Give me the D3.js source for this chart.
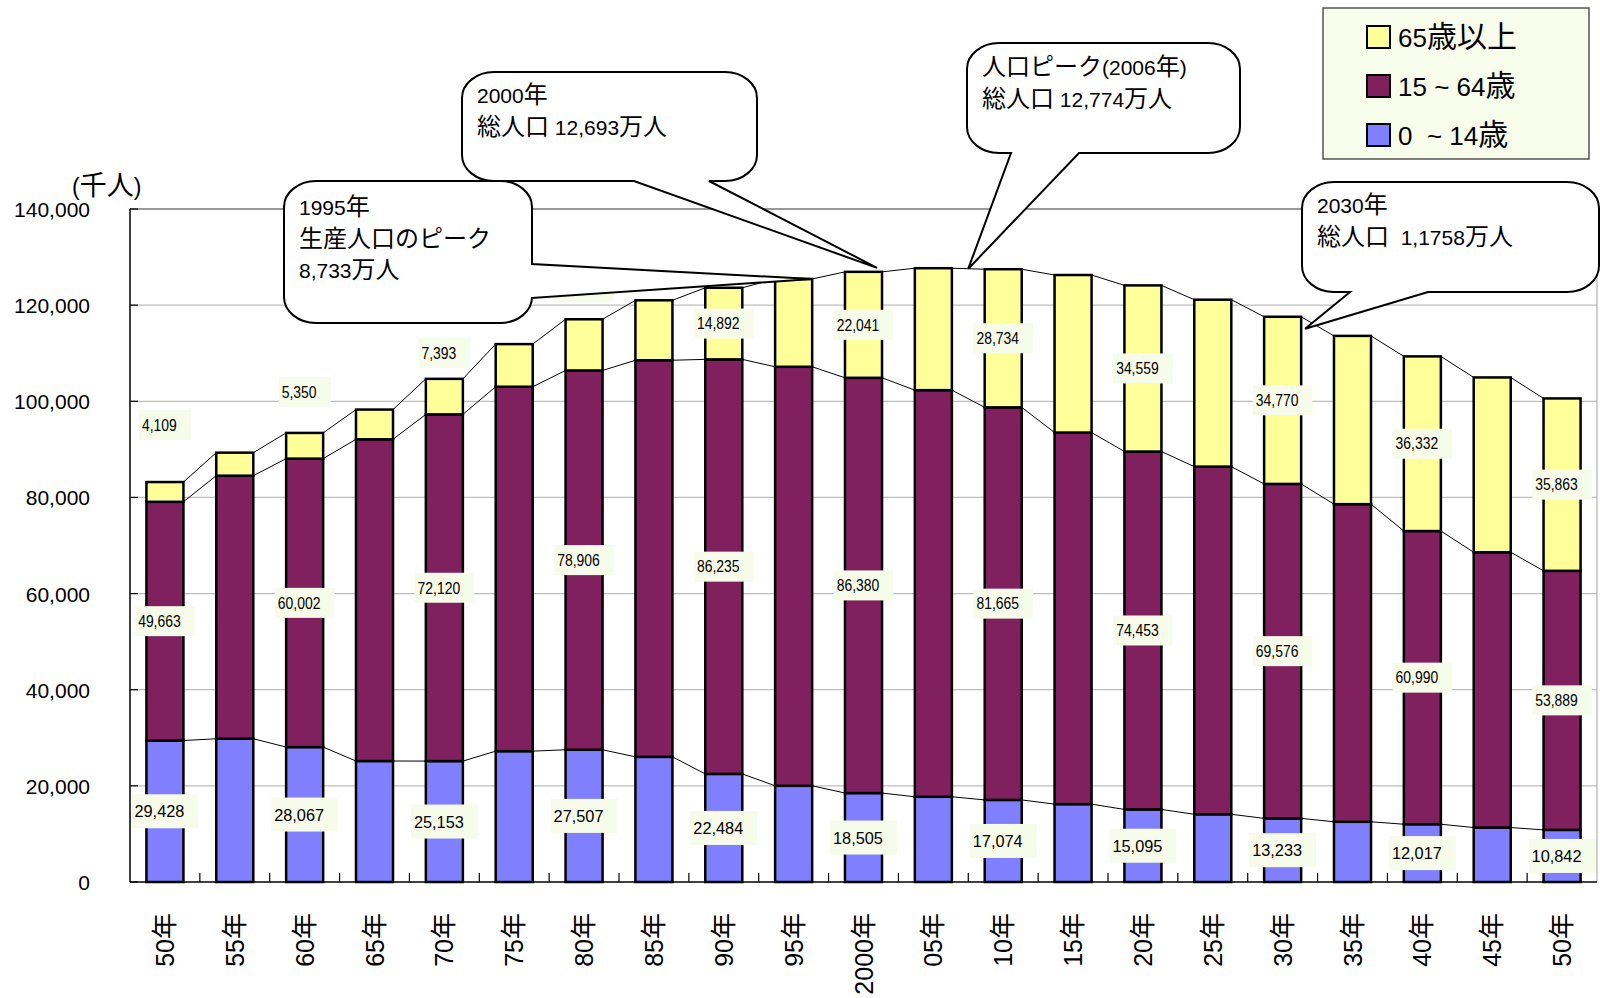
<!DOCTYPE html>
<html lang="ja">
<head>
<meta charset="utf-8">
<title>年齢3区分別人口の推移</title>
<script src="https://cdn.jsdelivr.net/npm/d3@7/dist/d3.min.js"></script>
<style>
  html, body { margin: 0; padding: 0; background: #ffffff; }
  svg { display: block; }
  text { font-family: "Liberation Sans", Arial, "Noto Sans CJK JP", sans-serif; fill: #000; }
</style>
</head>
<body>
<script>
// ---- data (千人) ----
const years = [1950, 1955, 1960, 1965, 1970, 1975, 1980, 1985, 1990, 1995, 2000,
               2005, 2010, 2015, 2020, 2025, 2030, 2035, 2040, 2045, 2050];
const yearLabels = ["50年", "55年", "60年", "65年", "70年", "75年", "80年", "85年", "90年", "95年", "2000年",
                    "05年", "10年", "15年", "20年", "25年", "30年", "35年", "40年", "45年", "50年"];
const age0to14 = [29428, 29798, 28067, 25166, 25153, 27221, 27507, 26033, 22484, 20014, 18505,
                  17727, 17074, 16197, 15095, 14085, 13233, 12524, 12017, 11327, 10842];
const age15to64 = [49663, 54729, 60002, 66928, 72120, 75807, 78906, 82506, 86235, 87165, 86380,
                   84590, 81665, 77297, 74453, 72325, 69576, 66076, 60990, 57269, 53889];
const age65plus = [4109, 4786, 5350, 6181, 7393, 8865, 10647, 12468, 14892, 18261, 22041,
                   25367, 28734, 32772, 34559, 34726, 34770, 35002, 36332, 36364, 35863];
const labelledYears = [1950, 1960, 1970, 1980, 1990, 2000, 2010, 2020, 2030, 2040, 2050];
const yTicks = [0, 20000, 40000, 60000, 80000, 100000, 120000, 140000];
const legendLabels = ["65歳以上", "15 ~ 64歳", "0  ~ 14歳"];
const unitLabel = "(千人)";

// ---- layout ----
const W = 1600, H = 998;
const plot = { left: 130, right: 1597, top: 209, bottom: 882 };
const colors = { a: "#8080FF", b: "#80205F", c: "#FFFF99" };
const labelBg = "#F7FBEA";
// small 65+ segments carry their label above the bar top (distance to label centre)
const aboveBarLift = { 1950: 57, 1960: 41, 1970: 26, 1980: 32 };

const svg = d3.select("body").append("svg").attr("width", W).attr("height", H);
svg.append("rect").attr("width", W).attr("height", H).attr("fill", "#fff");

const x = d3.scaleBand().domain(years).range([plot.left, plot.right])
  .paddingInner(0.47).paddingOuter(0.235);
const y = d3.scaleLinear().domain([0, 140000]).range([plot.bottom, plot.top]);
const bw = x.bandwidth();

const CJK = /[\u3000-\u30ff\u3400-\u9fff\uff00-\uffef]+|[^\u3000-\u30ff\u3400-\u9fff\uff00-\uffef]+/g;
function mixed(sel, str, latinSize, cjkSize) {
  str.match(CJK).forEach(part => {
    const isCjk = /[\u3000-\u30ff\u3400-\u9fff\uff00-\uffef]/.test(part);
    sel.append("tspan").attr("font-size", isCjk ? cjkSize : latinSize).text(part);
  });
  return sel;
}

// ---- gridlines & frame ----
const grid = svg.append("g");
yTicks.filter(v => v > 0 && v < 140000).forEach(v => {
  grid.append("line").attr("x1", plot.left).attr("x2", plot.right)
    .attr("y1", y(v)).attr("y2", y(v)).attr("stroke", "#bdbdbd").attr("stroke-width", 1.2);
});
grid.append("line").attr("x1", plot.left).attr("x2", plot.right)
  .attr("y1", y(140000)).attr("y2", y(140000)).attr("stroke", "#333").attr("stroke-width", 1.2);
grid.append("line").attr("x1", plot.right).attr("x2", plot.right)
  .attr("y1", plot.top).attr("y2", plot.bottom).attr("stroke", "#b0b0b0").attr("stroke-width", 1.2);

// ---- stacked bars ----
const rows = years.map((yr, i) => ({ year: yr, a: age0to14[i], b: age15to64[i], c: age65plus[i] }));
const stacked = d3.stack().keys(["a", "b", "c"])(rows);

// series lines between neighbouring bars
const sl = svg.append("g").attr("stroke", "#000").attr("stroke-width", 1);
stacked.forEach(s => {
  for (let i = 0; i < s.length - 1; i++) {
    sl.append("line")
      .attr("x1", x(years[i]) + bw).attr("y1", y(s[i][1]))
      .attr("x2", x(years[i + 1])).attr("y2", y(s[i + 1][1]));
  }
});

const bars = svg.append("g");
stacked.forEach(s => {
  bars.append("g").selectAll("rect").data(s).join("rect")
    .attr("x", d => x(d.data.year))
    .attr("width", bw)
    .attr("y", d => y(d[1]))
    .attr("height", d => y(d[0]) - y(d[1]))
    .attr("fill", colors[s.key])
    .attr("stroke", "#000").attr("stroke-width", 2.5);
});

// ---- axes ----
const axes = svg.append("g");
axes.append("line").attr("x1", plot.left).attr("x2", plot.left)
  .attr("y1", plot.top).attr("y2", plot.bottom).attr("stroke", "#000").attr("stroke-width", 1.5);
axes.append("line").attr("x1", plot.left).attr("x2", plot.right)
  .attr("y1", plot.bottom).attr("y2", plot.bottom).attr("stroke", "#000").attr("stroke-width", 1.5);
yTicks.forEach(v => {
  axes.append("line").attr("x1", plot.left).attr("x2", plot.left + 8)
    .attr("y1", y(v)).attr("y2", y(v)).attr("stroke", "#000").attr("stroke-width", 1.2);
  axes.append("text").attr("x", 90).attr("y", y(v)).attr("dy", "0.38em")
    .attr("text-anchor", "end").attr("font-size", 21)
    .text(d3.format(",")(v));
});
const step = x.step();
for (let i = 1; i < years.length; i++) {
  const tx = plot.left + i * step;
  axes.append("line").attr("x1", tx).attr("x2", tx)
    .attr("y1", plot.bottom).attr("y2", plot.bottom - 9).attr("stroke", "#000").attr("stroke-width", 1.2);
}
years.forEach((yr, i) => {
  const t = axes.append("text")
    .attr("transform", `translate(${x(yr) + bw / 2},913) rotate(-90)`)
    .attr("text-anchor", "end").attr("y", 9);
  mixed(t, yearLabels[i], 25, 26);
});
mixed(svg.append("text").attr("x", 72).attr("y", 195), unitLabel, 23, 27);

// ---- data labels ----
const labels = svg.append("g");
function dataLabel(cx, cy, value, big) {
  const size = big ? 17 : 16, sx = big ? 0.96 : 0.87, h = big ? 34 : 30;
  const g = labels.append("g").attr("transform", `translate(${cx},${cy})`);
  const r = g.append("rect").attr("fill", labelBg);
  const t = g.append("text").attr("font-size", size).attr("dy", "0.36em").text(d3.format(",")(value));
  const tw = t.node().getComputedTextLength() * sx;
  const w = tw + 17;
  r.attr("x", -w / 2).attr("y", -h / 2).attr("width", w).attr("height", h);
  t.attr("transform", `translate(${-w / 2 + 3},0) scale(${sx},1)`);
}
stacked.forEach(s => {
  s.forEach(d => {
    const yr = d.data.year;
    if (!labelledYears.includes(yr)) return;
    const value = d.data[s.key];
    const cx = x(yr) + bw / 2;
    let cy = (y(d[0]) + y(d[1])) / 2;
    if (s.key === "c" && aboveBarLift[yr] !== undefined) cy = y(d[1]) - aboveBarLift[yr];
    dataLabel(cx, cy, value, s.key === "a");
  });
});

// ---- callouts ----
function calloutPath(x0, y0, x1, y1, rx, ry, wedge) {
  let p = `M${x0 + rx},${y0} H${x1 - rx} A${rx},${ry} 0 0 1 ${x1},${y0 + ry}`;
  if (wedge.side === "right") p += ` V${wedge.a} L${wedge.tip[0]},${wedge.tip[1]} L${x1},${wedge.b}`;
  p += ` V${y1 - ry} A${rx},${ry} 0 0 1 ${x1 - rx},${y1}`;
  if (wedge.side === "bottom") p += ` H${wedge.b} L${wedge.tip[0]},${wedge.tip[1]} L${wedge.a},${y1}`;
  p += ` H${x0 + rx} A${rx},${ry} 0 0 1 ${x0},${y1 - ry} V${y0 + ry} A${rx},${ry} 0 0 1 ${x0 + rx},${y0} Z`;
  return p;
}
const topOf = i => y(age0to14[i] + age15to64[i] + age65plus[i]);
const iOf = yr => years.indexOf(yr);
const callouts = [
  { box: [284, 181, 532, 323], wedge: { side: "right", a: 264, b: 298, tip: [x(1995) + bw, topOf(iOf(1995))] },
    lines: ["1995年", "生産人口のピーク", "8,733万人"], tx: 299, ty: 215 },
  { box: [462, 72, 757, 181], wedge: { side: "bottom", a: 634, b: 709, tip: [x(2000) + bw - 5, topOf(iOf(2000)) - 4] },
    lines: ["2000年", "総人口 12,693万人"], tx: 477, ty: 103 },
  { box: [967, 43, 1240, 153], wedge: { side: "bottom", a: 1011, b: 1079,
      tip: [(x(2005) + bw + x(2010)) / 2, (topOf(iOf(2005)) + topOf(iOf(2010))) / 2] },
    lines: ["人口ピーク(2006年)", "総人口 12,774万人"], tx: 982, ty: 75 },
  { box: [1302, 182, 1599, 292], wedge: { side: "bottom", a: 1350, b: 1428, tip: [x(2030) + bw + 4, topOf(iOf(2030)) + 12] },
    lines: ["2030年", "総人口  1,1758万人"], tx: 1317, ty: 213 }
];
const cg = svg.append("g");
callouts.forEach(c => {
  const [x0, y0, x1, y1] = c.box;
  cg.append("path").attr("d", calloutPath(x0, y0, x1, y1, 32, 26, c.wedge))
    .attr("fill", "#fff").attr("stroke", "#000").attr("stroke-width", 2);
  c.lines.forEach((ln, k) => {
    const t = cg.append("text").attr("x", c.tx).attr("y", c.ty + k * 31.5).style("white-space", "pre");
    mixed(t, ln, 21, 24);
  });
});

// ---- legend ----
const lg = svg.append("g");
lg.append("rect").attr("x", 1323).attr("y", 8).attr("width", 266).attr("height", 151)
  .attr("fill", "#F8FCEB").attr("stroke", "#555").attr("stroke-width", 1.5);
const legendColors = [colors.c, colors.b, colors.a];
legendLabels.forEach((lab, i) => {
  const cy = 37 + i * 49;
  lg.append("rect").attr("x", 1367).attr("y", cy - 11).attr("width", 23).attr("height", 22)
    .attr("fill", legendColors[i]).attr("stroke", "#000").attr("stroke-width", 2);
  const t = lg.append("text").attr("x", 1398).attr("y", cy + 10).style("white-space", "pre");
  mixed(t, lab, 26, 30);
});
</script>
</body>
</html>
